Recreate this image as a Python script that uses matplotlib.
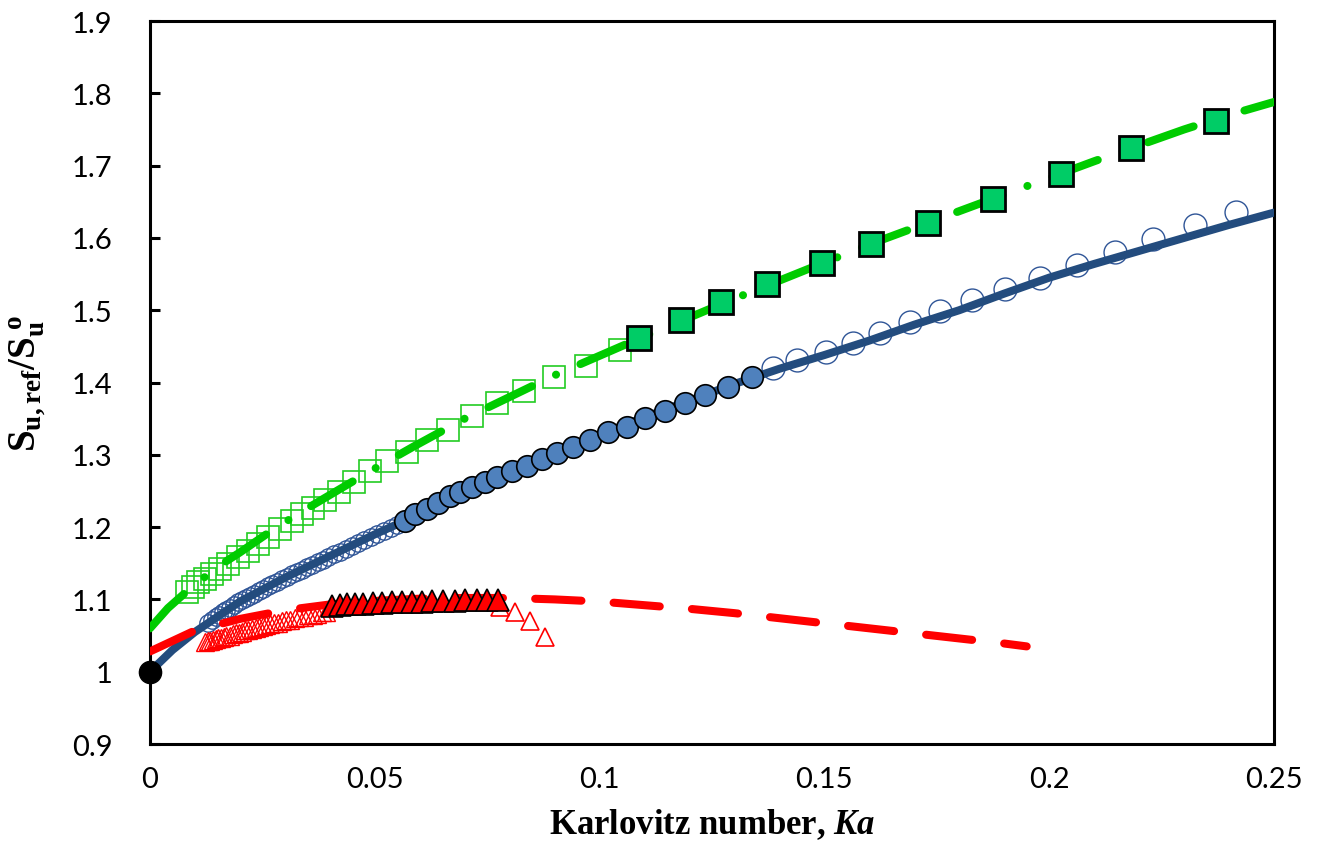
import matplotlib

matplotlib.use("Agg")
import matplotlib.pyplot as plt

# ---- data ------------------------------------------------------------------
# blue series
blue_line_x = [0, 0.005, 0.01, 0.02, 0.03, 0.04, 0.05, 0.06, 0.07, 0.08, 0.09,
               0.10, 0.11, 0.12, 0.13, 0.14, 0.15, 0.16, 0.17, 0.18, 0.19,
               0.20, 0.21, 0.22, 0.23, 0.24, 0.25]
blue_line_y = [1.0, 1.03, 1.055, 1.097, 1.13, 1.16, 1.19, 1.218, 1.247, 1.276,
               1.302, 1.328, 1.352, 1.375, 1.398, 1.419, 1.438, 1.458, 1.48,
               1.50, 1.523, 1.545, 1.564, 1.582, 1.60, 1.618, 1.635]

blue_open_small_x = [0.0130, 0.0138, 0.0146, 0.0154, 0.0162, 0.0170, 0.0178,
                     0.0187, 0.0196, 0.0205, 0.0214, 0.0223, 0.0232, 0.0242,
                     0.0252, 0.0262, 0.0272, 0.0282, 0.0293, 0.0304, 0.0315,
                     0.0326, 0.0337, 0.0349, 0.0361, 0.0373, 0.0385, 0.0397,
                     0.0410, 0.0423, 0.0436, 0.0449, 0.0463, 0.0477, 0.0491,
                     0.0505, 0.0520, 0.0535, 0.0550]
blue_open_small_y = [1.068, 1.072, 1.075, 1.078, 1.082, 1.085, 1.088, 1.092,
                     1.096, 1.099, 1.102, 1.105, 1.108, 1.111, 1.114, 1.118,
                     1.121, 1.124, 1.128, 1.131, 1.135, 1.138, 1.141, 1.145,
                     1.148, 1.152, 1.155, 1.159, 1.163, 1.166, 1.170, 1.174,
                     1.178, 1.182, 1.186, 1.190, 1.194, 1.199, 1.203]

blue_filled_x = [0.0567, 0.0589, 0.0616, 0.0641, 0.0667, 0.0690, 0.0716,
                 0.0745, 0.0772, 0.0805, 0.0839, 0.0872, 0.0905, 0.0941,
                 0.0979, 0.1019, 0.1061, 0.1101, 0.1145, 0.1190, 0.1234,
                 0.1286, 0.1339]
blue_filled_y = [1.208, 1.218, 1.225, 1.233, 1.243, 1.248, 1.255, 1.262,
                 1.269, 1.277, 1.284, 1.294, 1.302, 1.311, 1.321, 1.331,
                 1.339, 1.351, 1.360, 1.372, 1.383, 1.394, 1.407]

blue_open_big_x = [0.1386, 0.1439, 0.1504, 0.1564, 0.1624, 0.1690, 0.1757,
                   0.1828, 0.1901, 0.1979, 0.2062, 0.2146, 0.2231, 0.2324,
                   0.2415]
blue_open_big_y = [1.420, 1.431, 1.442, 1.455, 1.468, 1.483, 1.499, 1.514,
                   1.529, 1.545, 1.563, 1.581, 1.599, 1.618, 1.636]

# green series
green_line_x = [0, 0.004, 0.008, 0.015, 0.02, 0.0275, 0.035, 0.0483, 0.0585,
                0.07, 0.08, 0.09, 0.10, 0.11, 0.12, 0.13, 0.14, 0.15, 0.16,
                0.17, 0.18, 0.19, 0.20, 0.21, 0.22, 0.23, 0.24, 0.25]
green_line_y = [1.06, 1.088, 1.11, 1.145, 1.165, 1.197, 1.226, 1.275, 1.311,
                1.35, 1.38, 1.41, 1.437, 1.464, 1.49, 1.516, 1.541, 1.566,
                1.591, 1.614, 1.637, 1.66, 1.683, 1.706, 1.728, 1.75, 1.77,
                1.788]

green_open_x = [0.0082, 0.0096, 0.0107, 0.0122, 0.0138, 0.0156, 0.0173,
                0.0196, 0.0218, 0.0240, 0.0262, 0.0289, 0.0316, 0.0338,
                0.0363, 0.0389, 0.0420, 0.0454, 0.0489, 0.0527, 0.0572,
                0.0616, 0.0663, 0.0716, 0.0772, 0.0832, 0.0899, 0.0970,
                0.1045]
green_open_y = [1.110, 1.117, 1.124, 1.128, 1.135, 1.142, 1.149, 1.158,
                1.167, 1.176, 1.186, 1.197, 1.208, 1.218, 1.227, 1.238,
                1.249, 1.263, 1.277, 1.291, 1.304, 1.321, 1.335, 1.353,
                1.372, 1.388, 1.408, 1.423, 1.445]

green_filled_x = [0.1088, 0.1181, 0.1270, 0.1372, 0.1495, 0.1604, 0.1730,
                  0.1875, 0.2026, 0.2182, 0.2371]
green_filled_y = [1.461, 1.486, 1.511, 1.536, 1.565, 1.592, 1.620, 1.654,
                  1.689, 1.725, 1.762]

# red series
red_line_x = [0, 0.01, 0.02, 0.03, 0.04, 0.05, 0.06, 0.07, 0.08, 0.09, 0.10,
              0.11, 0.12, 0.13, 0.14, 0.15, 0.16, 0.17, 0.18, 0.19, 0.195]
red_line_y = [1.028, 1.057, 1.073, 1.085, 1.093, 1.098, 1.101, 1.102, 1.102,
              1.100, 1.097, 1.092, 1.087, 1.081, 1.074, 1.067, 1.060, 1.053,
              1.046, 1.039, 1.035]

red_open_small_x = [0.0122, 0.0128, 0.0134, 0.0140, 0.0146, 0.0152, 0.0158,
                    0.0164, 0.0170, 0.0177, 0.0184, 0.0191, 0.0198, 0.0205,
                    0.0212, 0.0219, 0.0227, 0.0235, 0.0243, 0.0251, 0.0259,
                    0.0267, 0.0276, 0.0285, 0.0294, 0.0303, 0.0312, 0.0322,
                    0.0332, 0.0342, 0.0352, 0.0362, 0.0372, 0.0382, 0.0392]
red_open_small_y = [1.041, 1.042, 1.043, 1.044, 1.045, 1.046, 1.047, 1.048,
                    1.049, 1.050, 1.052, 1.053, 1.054, 1.055, 1.057, 1.058,
                    1.059, 1.060, 1.062, 1.063, 1.064, 1.066, 1.067, 1.068,
                    1.070, 1.071, 1.072, 1.074, 1.075, 1.076, 1.078, 1.079,
                    1.080, 1.082, 1.083]

red_filled_x = [0.0405, 0.0423, 0.0438, 0.0456, 0.0474, 0.0496, 0.0516,
                0.0538, 0.0560, 0.0583, 0.0605, 0.0627, 0.0652, 0.0678,
                0.0701, 0.0727, 0.0750, 0.0774]
red_filled_y = [1.091, 1.092, 1.093, 1.093, 1.094, 1.095, 1.095, 1.096,
                1.096, 1.097, 1.097, 1.098, 1.098, 1.098, 1.099, 1.099,
                1.099, 1.099]

red_open_tail_x = [0.0778, 0.0812, 0.0845, 0.0879]
red_open_tail_y = [1.090, 1.083, 1.070, 1.048]

origin_x = [0]
origin_y = [1]

x_ticks = [0, 0.05, 0.1, 0.15, 0.2, 0.25]
x_tick_labels = ["0", "0.05", "0.1", "0.15", "0.2", "0.25"]
y_ticks = [0.9, 1.0, 1.1, 1.2, 1.3, 1.4, 1.5, 1.6, 1.7, 1.8, 1.9]
y_tick_labels = ["0.9", "1", "1.1", "1.2", "1.3", "1.4", "1.5", "1.6", "1.7", "1.8", "1.9"]

# ---- colours ---------------------------------------------------------------
BLUE_LINE = "#234C7E"
BLUE_FILL = "#4F81BD"
BLUE_EDGE = "#2F5597"
GREEN_LINE = "#00CC00"
GREEN_FILL = "#00CC66"
GREEN_EDGE = "#22CC22"
RED = "#FF0000"

plt.rcParams.update({
    "mathtext.fontset": "custom",
    "mathtext.rm": "Liberation Serif",
    "mathtext.bf": "Liberation Serif:bold",
    "mathtext.it": "Liberation Serif:italic:bold",
})

fig = plt.figure(figsize=(13.18, 8.53), dpi=100)
ax = fig.add_axes([0.1138, 0.1266, 0.8528, 0.8476])

# open (small) markers first
ax.plot(blue_open_small_x, blue_open_small_y, "o", ms=12.5, mfc="none",
        mec=BLUE_EDGE, mew=1.0, zorder=2)
ax.plot(green_open_x, green_open_y, "s", ms=15.5, mfc="none",
        mec=GREEN_EDGE, mew=1.2, zorder=2)
ax.plot(red_open_small_x, red_open_small_y, "^", ms=12.5, mfc="none",
        mec=RED, mew=1.0, zorder=2)
ax.plot(blue_open_big_x, blue_open_big_y, "o", ms=16.5, mfc="none",
        mec=BLUE_EDGE, mew=1.0, zorder=2)
ax.plot(red_open_tail_x, red_open_tail_y, "^", ms=12.5, mfc="none",
        mec=RED, mew=1.2, zorder=2)

# fitted lines
ax.plot(blue_line_x, blue_line_y, "-", color=BLUE_LINE, lw=5.8,
        solid_capstyle="round", zorder=3)
ax.plot(green_line_x, green_line_y, color=GREEN_LINE, lw=5.8,
        dashes=(6, 3.3, 0.01, 3.3), dash_capstyle="round", zorder=3)
ax.plot(red_line_x, red_line_y, color=RED, lw=5.8,
        dashes=(5.75, 4), dash_capstyle="round", zorder=3)

# filled markers
ax.plot(blue_filled_x, blue_filled_y, "o", ms=15.5, mfc=BLUE_FILL,
        mec="black", mew=1.2, zorder=4)
ax.plot(green_filled_x, green_filled_y, "s", ms=17.5, mfc=GREEN_FILL,
        mec="black", mew=2.0, zorder=4)
ax.plot(red_filled_x, red_filled_y, "^", ms=16.5, mfc=RED,
        mec="black", mew=1.2, zorder=4)

ax.plot(origin_x, origin_y, "o", ms=16, color="black", zorder=6, clip_on=False)

ax.set_xlim(0, 0.25)
ax.set_ylim(0.9, 1.9)
ax.set_xticks(x_ticks)
ax.set_xticklabels(x_tick_labels)
ax.set_yticks(y_ticks)
ax.set_yticklabels(y_tick_labels)

for side in ["left", "bottom", "top", "right"]:
    ax.spines[side].set_linewidth(2.2)
    ax.spines[side].set_color("black")

ax.tick_params(axis="y", direction="in", length=7, width=2.2, pad=27,
               labelsize=21)
ax.tick_params(axis="x", length=0, pad=16, labelsize=21)
for lbl in ax.get_xticklabels() + ax.get_yticklabels():
    lbl.set_fontfamily("Lato")

ax.set_xlabel(r"Karlovitz number, $\mathit{Ka}$", fontsize=25,
              fontfamily="Liberation Serif", fontweight="bold", labelpad=10)
ax.set_ylabel(r"$\mathbf{S_{u,ref}/S_u^{\ o}}$", fontsize=28, labelpad=18)

fig.savefig("out.png", dpi=100)
